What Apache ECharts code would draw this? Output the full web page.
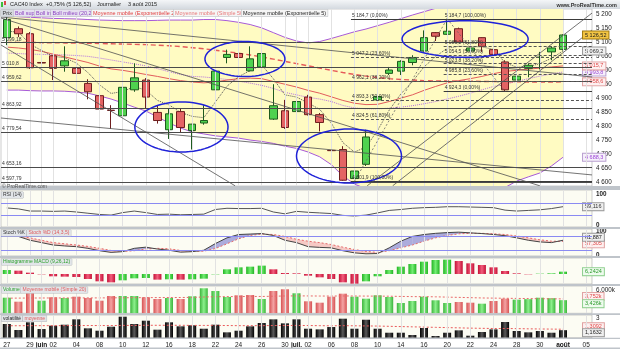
<!DOCTYPE html>
<html><head><meta charset="utf-8">
<script src="https://cdn.jsdelivr.net/npm/echarts@6.0.0/dist/echarts.min.js"></script>
<style>html,body{margin:0;padding:0;background:#fff;overflow:hidden}#chart{width:620px;height:349px}</style>
</head><body><div id="chart"></div>
<script>
// ---------------- DATA ----------------
const dates = ['27/05','28/05','29/05','01/06','02/06','03/06','04/06','05/06','08/06','09/06','10/06','11/06','12/06','15/06','16/06','17/06','18/06','19/06','22/06','23/06','24/06','25/06','26/06','29/06','30/06','01/07','02/07','03/07','06/07','07/07','08/07','09/07','10/07','13/07','14/07','15/07','16/07','17/07','20/07','21/07','22/07','23/07','24/07','27/07','28/07','29/07','30/07','31/07','03/08','04/08','05/08'];
const tickLabels = ['27','','29','juin','02','','04','','08','','10','','12','','16','','18','','22','','24','','26','','30','juil.','02','','06','','08','','10','','14','','16','','20','','22','','24','','28','','30','','août','','05'];
const monthLabels = ['juin','juil.','août'];

const open  = [5117,5149,5131,5028,5052,5016,5007,4953,4909,4857,4837,4930,4965,4849,4787,4852,4784,4811,4930,5046,5060,4998,5012,4825,4855,4852,4904,4841,4713,4716,4612,4663,4894,4989,4997,5028,5069,5135,5129,5149,5069,5117,5074,5030,4965,5007,5046,5066,5075];
const close = [5182,5131,5009,5026,5007,5034,4989,4923,4861,4856,4939,4973,4904,4820,4844,4795,4807,4820,4997,5057,5046,5041,5060,4873,4795,4888,4841,4813,4712,4606,4639,4761,4906,5001,5032,5046,5117,5122,5140,5101,5080,5086,5057,4930,4979,5018,5047,5080,5126.52];
const low   = [5090,5119,5005,4991,4965,4995,4923,4896,4858,4790,4817,4923,4864,4809,4754,4778,4716,4805,4915,5025,5004,4996,4986,4822,4790,4820,4838,4781,4708,4604,4601.9,4657,4858,4983,4983,5018,5067,5105,5127,5099,5066,5066,5054,4924.3,4941,4975,5003,5036,5071];
const high  = [5193,5157,5137,5084,5054,5086,5042,4968,4920,4875,4941,5025,4972,4873,4864,4864,4808,4875,5012,5074,5066,5086,5093,4950,4894,4944,4912,4847,4781,4728,4672,4787,4927,5012,5036,5054,5143,5137,5184.7,5153,5098,5118,5117,5036,4995,5025,5066,5086,5129];

const bollUp  = [5195,5192,5190,5188,5186,5185,5184,5182,5180,5179,5178,5178,5178,5179,5180,5180,5180,5182,5182,5178,5172,5164,5152,5135,5118,5105,5098,5103,5114,5126,5138,5148,5160,5172,5185,5198,5210,5222,5236,5248,5258,5266,5274,5284,5292,5296,5300,5302,5299];
const bollLow = [4929,4929,4927,4926,4926,4925,4922,4918,4908,4897,4883,4868,4854,4833,4811,4793,4779,4772,4765,4761,4757,4750,4745,4738,4728,4720,4707,4690,4662,4622,4592,4576,4565,4556,4550,4547,4545,4546,4548,4552,4557,4563,4570,4580,4603,4618,4632,4657,4688.3];
const bollMid = [5062,5060,5058,5057,5056,5055,5053,5050,5044,5037,5030,5023,5016,5006,4995,4985,4978,4976,4972,4967,4961,4954,4946,4935,4921,4912,4903,4897,4888,4874,4865,4862,4862,4864,4868,4873,4880,4888,4897,4907,4918,4930,4942,4950,4960,4970,4979,4987,4993.8];
const ema20 = [5083,5080,5075,5068,5058,5048,5038,5028,5015,5005,5000,4993,4985,4978,4970,4963,4958,4955,4958,4965,4970,4972,4970,4960,4950,4940,4928,4918,4905,4892,4882,4877,4878,4888,4900,4912,4928,4942,4955,4963,4970,4978,4988,4996,5000,5004,5008,5012,5015.7];
const sma50 = [5100,5100,5100,5099,5099,5098,5098,5097,5096,5095,5094,5093,5092,5090,5088,5085,5081,5077,5072,5067,5061,5055,5048,5040,5032,5024,5016,5008,5000,4992,4985,4979,4974,4970,4967,4965,4963,4962,4962,4961,4961,4960,4960,4959,4959,4958,4958,4958,4958.6];
const ema5  = [5140,5137,5094,5071,5050,5045,5026,4992,4948,4917,4924,4941,4929,4892,4876,4849,4835,4830,4886,4943,4977,4999,5019,4970,4912,4904,4883,4860,4811,4741,4707,4725,4785,4857,4915,4959,5012,5049,5079,5086,5085,5084,5075,5027,5011,5013,5024,5043,5069.2];

const rsi    = [55,52,45,45,44,45,42,38,34,32,40,45,40,34,35,33,34,35,50,54,53,53,54,42,36,44,41,39,37,31,29,32,39,47,50,54,56,57,59,59,58,57,56,48,45,47,49,53,59.116];
const stochK = [85,78,62,52,42,38,35,28,18,11,14,28,33,25,20,12,14,20,48,72,86,88,90,82,62,52,35,32,30,18,9,5,6,30,58,78,86,91,94,96,93,90,86,81,72,62,55,52,61.887];
const stochD = [82,80,72,62,52,47,42,36,28,19,15,18,25,28,26,19,16,16,27,47,68,82,88,86,78,66,58,52,44,33,23,15,11,18,30,42,58,72,82,89,91,91,89,86,80,72,64,58,57.305];
const macdHist = [10.7,8.9,3.6,-0.9,-6.2,-7.1,-8,-13.4,-19.6,-22.3,-16.9,-11.6,-10.7,-15.1,-14.2,-15.1,-14.2,-12.5,-0.9,12.5,17.8,19.6,22.3,12.5,2.7,1.8,-4.5,-8.9,-13.4,-22.3,-25.8,-19.6,-6.2,10.7,19.6,26.7,32.9,37.4,38.3,34.7,28.5,24,17.8,8,1.8,-0.9,0.9,1.8,6.2424];
const volume = [4073,3029,5222,3290,4178,3995,4334,3995,3290,4517,4517,4517,4178,3733,3995,3733,4439,6527,5822,4256,4700,4778,3733,5822,6266,5222,3133,2768,4334,5117,4334,3812,4700,4256,2690,3211,4334,3394,2690,2950,2768,2507,3211,3812,3560,3690,4074,3950,3426];
const volumeMA = [3950,3960,3990,3990,4000,4000,4010,4020,4010,4030,4050,4070,4090,4100,4110,4120,4150,4250,4330,4350,4370,4390,4390,4450,4520,4540,4530,4500,4500,4520,4510,4490,4480,4460,4400,4350,4330,4300,4220,4150,4080,4000,3960,3920,3880,3840,3810,3780,3752];
const volat = [2.12,1.19,2.38,1.34,1.86,2.01,2.84,1.45,1.08,1.7,3.25,2.12,2.63,1.24,2.38,1.76,1.92,1.39,2.01,0.83,1.08,1.76,2.27,2.84,2.22,2.84,1.39,1.29,1.65,2.94,1.39,2.78,1.39,0.77,0.77,0.42,1.5,0.26,0.77,1.14,0.31,0.88,1.29,2.43,1.04,0.83,1.04,0.77,1.1632];
const volatMA = [1.85,1.85,1.86,1.86,1.86,1.87,1.88,1.88,1.88,1.88,1.9,1.9,1.92,1.92,1.92,1.92,1.9,1.9,1.9,1.88,1.86,1.86,1.86,1.88,1.88,1.9,1.88,1.86,1.84,1.86,1.84,1.82,1.8,1.76,1.72,1.68,1.64,1.6,1.56,1.52,1.48,1.45,1.42,1.42,1.4,1.37,1.35,1.33,1.3092];

const priceTicks = [4600,4650,4700,4750,4800,4850,4900,4950,5000,5050,5100,5150,5200];
const hLines = [5099.18,5010.8,4959.62,4863.92,4779.54,4653.16,4597.79];
const hLineLabels = ['5 099,18','5 010,8','4 959,62','4 863,92','4 779,54','4 653,16','4 597,79'];
const fibUpStart = 30, fibDownStart = 38;
const fibUp   = [[5184.7,'0,00%'],[5047.2,'23,60%'],[4962.1,'38,20%'],[4893.3,'50,00%'],[4824.5,'61,80%'],[4601.9,'100,00%']];
const fibDown = [[5184.7,'100,00%'],[5085.2,'61,80%'],[5054.5,'50,00%'],[5023.8,'38,20%'],[4985.8,'23,60%'],[4924.3,'0,00%']];
const fibDiagonals = [[30,4601.9,38,5184.7],[38,5184.7,43,4924.3]];
const trendLines = [[-0.5,5191,50.5,4976],[-0.5,4829,50.5,4625],[-0.5,5187.5,46.0,4586],[-0.5,5090.7,19.7,4586],[31.1,4586,50.5,5205],[33.3,4586,50.5,5144.4]];
const ellipses = [[20.55,5040.5,3.45,62.7],[15.07,4796.8,4.02,89.6],[29.53,4692.9,4.53,96.8],[39.55,5112.2,5.44,65.6]];

// ---------------- helpers ----------------
const F = 'Liberation Sans, Arial, sans-serif';
const N = close.length, L = N - 1;
function fmt(v, d) {
  const s = v.toFixed(d).split('.');
  const i = s[0].replace(/\B(?=(\d{3})+(?!\d))/g, ' ');
  return s[1] !== undefined ? i + ',' + s[1] : i;
}
const fmtDec = (v, d) => v.toFixed(d).replace('.', ',');
function grad(dark, light) {
  return new echarts.graphic.LinearGradient(0, 0, 1, 0, [{offset:0,color:dark},{offset:0.5,color:light},{offset:1,color:dark}]);
}
function tag(text, color, bg, border, offY) {
  return {show:true, formatter:text, distance:20, fontSize:5.5, fontFamily:F, color:color,
    backgroundColor:bg, borderColor:border, borderWidth:1, padding:[1,2,0,2], offset:[0, offY||0]};
}
function line(gi, data, ls, z, endLabel, extra) {
  return Object.assign({type:'line', xAxisIndex:gi, yAxisIndex:gi, data:data, symbol:'none', silent:true,
    lineStyle:ls, z:z, endLabel:endLabel, animation:false}, extra||{});
}
const tickIdx = tickLabels.map((t,i)=>t? i : -1).filter(i=>i>=0);
function vgrid(gi, xi) {
  return {type:'line', xAxisIndex:xi===undefined?gi:xi, yAxisIndex:gi, data:[], silent:true, z:1,
    markLine:{silent:true, symbol:['none','none'], label:{show:false}, animation:false,
      lineStyle:{color:'#e2e2e2', width:1, type:'solid'}, data: tickIdx.map(i=>({xAxis:i}))}};
}

// ---------------- layout ----------------
const gridSpec = [
  {top:9, height:177, bg:'#ffffff'},
  {top:190, height:37, bg:'#fcfcf3'},
  {top:229, height:27, bg:'#fcfcf3'},
  {top:258, height:26, bg:'#fcfcf3'},
  {top:286, height:27.3, bg:'#fcfcf3'},
  {top:315, height:22.7, bg:'#fcfcf3'}
];
const yCfg = [
  {min:4585.3, max:5219.7, vals:priceTicks, f:v=>fmt(v,0), bold:'normal'},
  {min:-6.5, max:113, vals:[0,50,100], f:v=>String(v), bold:'bold'},
  {min:-4.2, max:109.2, vals:[0,100], f:v=>String(v), bold:'bold'},
  {min:-26.7, max:42.7, vals:[], f:v=>'', bold:'normal'},
  {min:0, max:7120, vals:[6000], f:v=>(v/1000).toFixed(3)+'k', bold:'normal'},
  {min:0, max:3.51, vals:[3], f:v=>String(v), bold:'normal'}
];

const grids = gridSpec.map(g=>({left:1, right:28, top:g.top, height:g.height, show:true,
  backgroundColor:g.bg, borderColor:'#9a9a9a', borderWidth:0.5}));
const xAxes = gridSpec.map((g,i)=>({type:'category', gridIndex:i, data:dates, boundaryGap:true,
  axisLine:{show:false}, axisTick:{show:false}, splitLine:{show:false},
  axisLabel: i===5 ? {show:true, interval:0, margin:4, fontSize:6.5, fontFamily:F, color:'#222',
      formatter:(v,idx)=>{const t=tickLabels[idx]; return monthLabels.includes(t)?'{b|'+t+'}':t;},
      rich:{b:{fontWeight:'bold', fontSize:6.5, fontFamily:F, color:'#111'}}} : {show:false}}));
xAxes.push({type:'value', gridIndex:0, min:-0.5, max:50.5, show:false, position:'top'});
const yAxes = yCfg.map((c,i)=>({type:'value', gridIndex:i, position:'right', min:c.min, max:c.max, scale:true,
  axisLine:{show:false}, axisTick:{show:false}, splitLine:{show:false},
  axisLabel:{show:c.vals.length>0, customValues:c.vals, formatter:c.f, fontSize:6.3, fontFamily:F,
    color:'#222', fontWeight:c.bold, margin:4}}));

// ---------------- series ----------------
const series = [];
series.push(line(0, bollLow, {color:'#a75ad8', width:1}, 1,
  tag(fmt(bollLow[L],1), '#9b45d6', '#f6f0fb', '#b9a0cf'), {stack:'bb'}));
series.push(line(0, bollUp.map((u,i)=>u-bollLow[i]), {color:'#a75ad8', width:1}, 1, undefined,
  {stack:'bb', areaStyle:{color:'#fffbc2', opacity:1}}));
series.push(vgrid(0, 6));
const marks = [];
hLines.forEach((v,k)=>marks.push([{coord:[-0.5,v], lineStyle:{color:'#4a4a4a', width:1, type:'solid'},
  label:{show:true, position:'insideStartTop', formatter:hLineLabels[k], fontSize:5, fontFamily:F, color:'#333', distance:1}}, {coord:[50.5,v]}]));
function fibMarks(start, levels){
  levels.forEach(([v,p])=>{
    const solid = (p==='0,00%'||p==='100,00%');
    marks.push([{coord:[start-0.3,v], lineStyle:{color:solid?'#3a3a3a':'#555', width:1, type:solid?'solid':[3,2]},
      label:{show:true, position:'insideStartTop', formatter:fmt(v,1)+' ('+p+')', fontSize:5, fontFamily:F, color:'#333', distance:1}},
      {coord:[50.5,v]}]);
  });
}
fibMarks(fibUpStart, fibUp);
fibMarks(fibDownStart, fibDown);
trendLines.forEach(t=>marks.push([{coord:[t[0],t[1]], lineStyle:{color:'#505050', width:0.8, type:'solid'}, label:{show:false}}, {coord:[t[2],t[3]]}]));
fibDiagonals.forEach(t=>marks.push([{coord:[t[0],t[1]], lineStyle:{color:'#666', width:0.8, type:[2,2]}, label:{show:false}}, {coord:[t[2],t[3]]}]));
series.push({type:'line', xAxisIndex:6, yAxisIndex:0, data:[], z:2, silent:true,
  markLine:{silent:true, symbol:['none','none'], animation:false, data:marks}});
series.push(line(0, bollMid, {color:'#b46fe0', width:1, type:'dotted'}, 3, tag(fmt(bollMid[L],1), '#9b45d6', '#f6f0fb', '#b9a0cf')));
series.push(line(0, sma50, {color:'#e65a5a', width:1.4, type:[5,3]}, 3, tag(fmt(sma50[L],1), '#e04848', '#fdf0f0', '#e0a0a0')));
series.push(line(0, ema20, {color:'#e25c5c', width:1}, 3, tag(fmt(ema20[L],1), '#e04848', '#fdf0f0', '#e0a0a0')));
series.push(line(0, ema5, {color:'#555', width:1, type:'dotted'}, 3, tag(fmt(ema5[L],1), '#333', '#f0f0f0', '#999')));
series.push({type:'candlestick', xAxisIndex:0, yAxisIndex:0, z:4, barWidth:8, silent:true, animation:false,
  data: open.map((o,i)=>[o, close[i], low[i], high[i]]),
  itemStyle:{color:'#4fd24f', color0:'#e46464', borderColor:'#1e5a1e', borderColor0:'#6e1e1e', borderWidth:1}});
series.push(line(0, close, {opacity:0, width:0}, 6, tag(fmt(close[L],2), '#1a1a1a', '#f3c544', '#a07a10')));
series.push({type:'custom', xAxisIndex:6, yAxisIndex:0, z:5, silent:true, clip:true, animation:false,
  data: ellipses, encode:{x:0, y:1},
  renderItem:(params, api)=>{
    const e = ellipses[params.dataIndex];
    const c = api.coord([e[0], e[1]]);
    const sx = api.size([e[2], 0])[0], sy = api.size([0, e[3]])[1];
    const pts = [];
    for (let k=0;k<72;k++){const a=k/72*2*Math.PI; pts.push([c[0]+sx*Math.cos(a), c[1]+sy*Math.sin(a)]);}
    return {type:'polygon', shape:{points:pts}, style:{fill:'none', stroke:'#1f22d8', lineWidth:1.5}};
  }});

// RSI
series.push(vgrid(1));
series.push(line(1, rsi, {color:'#555', width:1}, 3, tag(fmtDec(rsi[L],3), '#333', '#f0f0f0', '#999'),
  {markLine:{silent:true, symbol:['none','none'], label:{show:false}, animation:false,
    lineStyle:{color:'#8a8af2', width:1, type:'solid'}, data:[{yAxis:70},{yAxis:30}]}}));

// Stochastic
series.push(vgrid(2));
series.push({type:'custom', xAxisIndex:2, yAxisIndex:2, z:2, silent:true, clip:true, animation:false,
  data: stochK.slice(0, -1).map((k,i)=>[i, k]), encode:{x:0, y:1},
  renderItem:(params, api)=>{
    const i = params.dataIndex;
    const a1 = api.coord([i, stochK[i]]), a2 = api.coord([i+1, stochK[i+1]]);
    const b1 = api.coord([i, stochD[i]]), b2 = api.coord([i+1, stochD[i+1]]);
    const d1 = stochK[i]-stochD[i], d2 = stochK[i+1]-stochD[i+1];
    const col = d => d >= 0 ? 'rgba(105,105,200,0.55)' : 'rgba(240,150,150,0.5)';
    if (d1*d2 >= 0) return {type:'polygon', shape:{points:[a1,a2,b2,b1]}, style:{fill:col(d1+d2)}};
    const t = d1/(d1-d2);
    const c = [a1[0]+(a2[0]-a1[0])*t, a1[1]+(a2[1]-a1[1])*t];
    return {type:'group', children:[
      {type:'polygon', shape:{points:[a1,c,b1]}, style:{fill:col(d1)}},
      {type:'polygon', shape:{points:[c,a2,b2]}, style:{fill:col(d2)}}]};
  }});
series.push(line(2, stochD, {color:'#e56a6a', width:1, type:[2,2]}, 3, tag(fmtDec(stochD[L],3), '#e04848', '#fdf0f0', '#e0a0a0', 2.5),
  {markLine:{silent:true, symbol:['none','none'], label:{show:false}, animation:false,
    lineStyle:{color:'#8a8af2', width:1, type:'solid'}, data:[{yAxis:80},{yAxis:20}]}}));
series.push(line(2, stochK, {color:'#444', width:1}, 4, tag(fmtDec(stochK[L],3), '#222', '#f0f0f0', '#999', -3)));

// MACD histogram
series.push(vgrid(3));
series.push({type:'bar', xAxisIndex:3, yAxisIndex:3, barWidth:8, silent:true, z:2, animation:false,
  data: macdHist.map((v,i)=>({value:v, itemStyle:{color: (i===0 || v>=macdHist[i-1]) ? grad('#22b422','#74ee74') : grad('#c40f35','#f2607e')}}))});
series.push(line(3, macdHist, {opacity:0, width:0}, 6, tag(fmtDec(macdHist[L],4), '#2a9a2a', '#eefbee', '#8fcf8f')));

// Volume
series.push(vgrid(4));
series.push({type:'bar', xAxisIndex:4, yAxisIndex:4, barWidth:8, silent:true, z:2, animation:false,
  data: volume.map((v,i)=>({value:v, itemStyle:{color: (i===0 || close[i]>=close[i-1]) ? grad('#3cb43c','#8cf08c') : grad('#d65252','#f4a4a4')}}))});
series.push(line(4, volumeMA, {color:'#ea6a6a', width:1, type:[2,2]}, 3, tag(fmtDec(volumeMA[L]/1000,3)+'k', '#e04848', '#fdf0f0', '#e0a0a0', -2.5)));
series.push(line(4, volume, {opacity:0, width:0}, 6, tag(fmtDec(volume[L]/1000,3)+'k', '#2a9a2a', '#eefbee', '#8fcf8f', 3.5)));

// Volatility
series.push(vgrid(5));
series.push({type:'bar', xAxisIndex:5, yAxisIndex:5, barWidth:8, silent:true, z:2, animation:false,
  data: volat, itemStyle:{color: grad('#000000','#5a5a5a')}});
series.push(line(5, volatMA, {color:'#ea5a5a', width:1, type:[2,2]}, 3, tag(fmtDec(volatMA[L],4), '#e04848', '#fdf0f0', '#e0a0a0', -2.5)));
series.push(line(5, volat, {opacity:0, width:0}, 6, tag(fmtDec(volat[L],4), '#222', '#f0f0f0', '#999', 2.5)));

// ---------------- texts & frame ----------------
function txt(x, y, text, color, size, bg, weight, align) {
  return {type:'text', x:x, y:y, z:100, silent:true, style:{text:text, fill:color, font:(weight||'normal')+' '+size+'px '+F,
    verticalAlign:'middle', align:align||'left', backgroundColor:bg||null, borderColor:bg?'#b4b8bc':null, borderWidth:bg?0.5:0, padding:bg?[1,1.5,0,1.5]:0}};
}
const graphic = [
  {type:'rect', z:50, silent:true, shape:{x:0,y:0,width:620,height:9},
    style:{fill:new echarts.graphic.LinearGradient(0,0,0,1,[{offset:0,color:'#f4f6f8'},{offset:1,color:'#d4d9df'}])}},
  {type:'rect', z:51, silent:true, shape:{x:1,y:2,width:2,height:5}, style:{fill:'#3cbf3c'}},
  {type:'rect', z:51, silent:true, shape:{x:4,y:1,width:2,height:4}, style:{fill:'#d84a4a'}},
  txt(10, 4.8, 'CAC40 Index', '#222', 5.5),
  txt(46, 4.8, '+0,75% (5 126,52)', '#222', 5.5),
  txt(97, 4.8, 'Journalier', '#222', 5.5),
  txt(128, 4.8, '3 août 2015', '#222', 5.5),
  txt(617, 5, 'www.ProRealTime.com', '#333', 5.5, null, 'bold', 'right')
];
[['Prix',1,'#333','#d6dade'],['Boll sup',13.5,'#8a3fc0','#e6e0f0'],['Boll inf',34.5,'#8a3fc0','#e6e0f0'],
 ['Boll milieu (20,2)',51,'#8a3fc0','#e6e0f0'],['Moyenne mobile (Exponentielle 20)',91.5,'#e03c3c','#f5f5f5'],
 ['Moyenne mobile (Simple 50)',173.5,'#e87878','#f5f5f5'],['Moyenne mobile (Exponentielle 5)',241.5,'#222','#f5f5f5']
].forEach(a=>graphic.push(txt(a[1], 13, a[0], a[2], 5.5, a[3])));
[['RSI (14)',1.5,195,'#333'],['Stoch %K',1.5,233,'#333'],['Stoch %D (14,3,5)',27,233,'#e05a5a'],
 ['Histogramme MACD (9,26,12)',1.5,262,'#2aa02a'],['Volume',1.5,290,'#2aa02a'],['Moyenne mobile (Simple 20)',21,290,'#e05a5a'],
 ['volatilité',1.5,318.5,'#222'],['moyenne',23,318.5,'#e05a5a']
].forEach(a=>graphic.push(txt(a[1], a[2], a[0], a[3], 5, '#e2e5e9')));
graphic.push(txt(2, 186.5, '© ProRealTime.com', '#555', 5));
[[186,4],[227,2],[256,2],[284,2],[313.3,1.7],[337.7,1.3],[347.5,1.5]].forEach(s=>graphic.push(
  {type:'rect', z:40, silent:true, shape:{x:0,y:s[0],width:620,height:s[1]}, style:{fill:'#bfc4ca'}}));

const chart = echarts.init(document.getElementById('chart'), null, {renderer:'canvas'});
chart.setOption({
  animation:false,
  backgroundColor:'#ffffff',
  textStyle:{fontFamily:F},
  grid:grids, xAxis:xAxes, yAxis:yAxes, series:series, graphic:graphic
});
</script></body></html>
